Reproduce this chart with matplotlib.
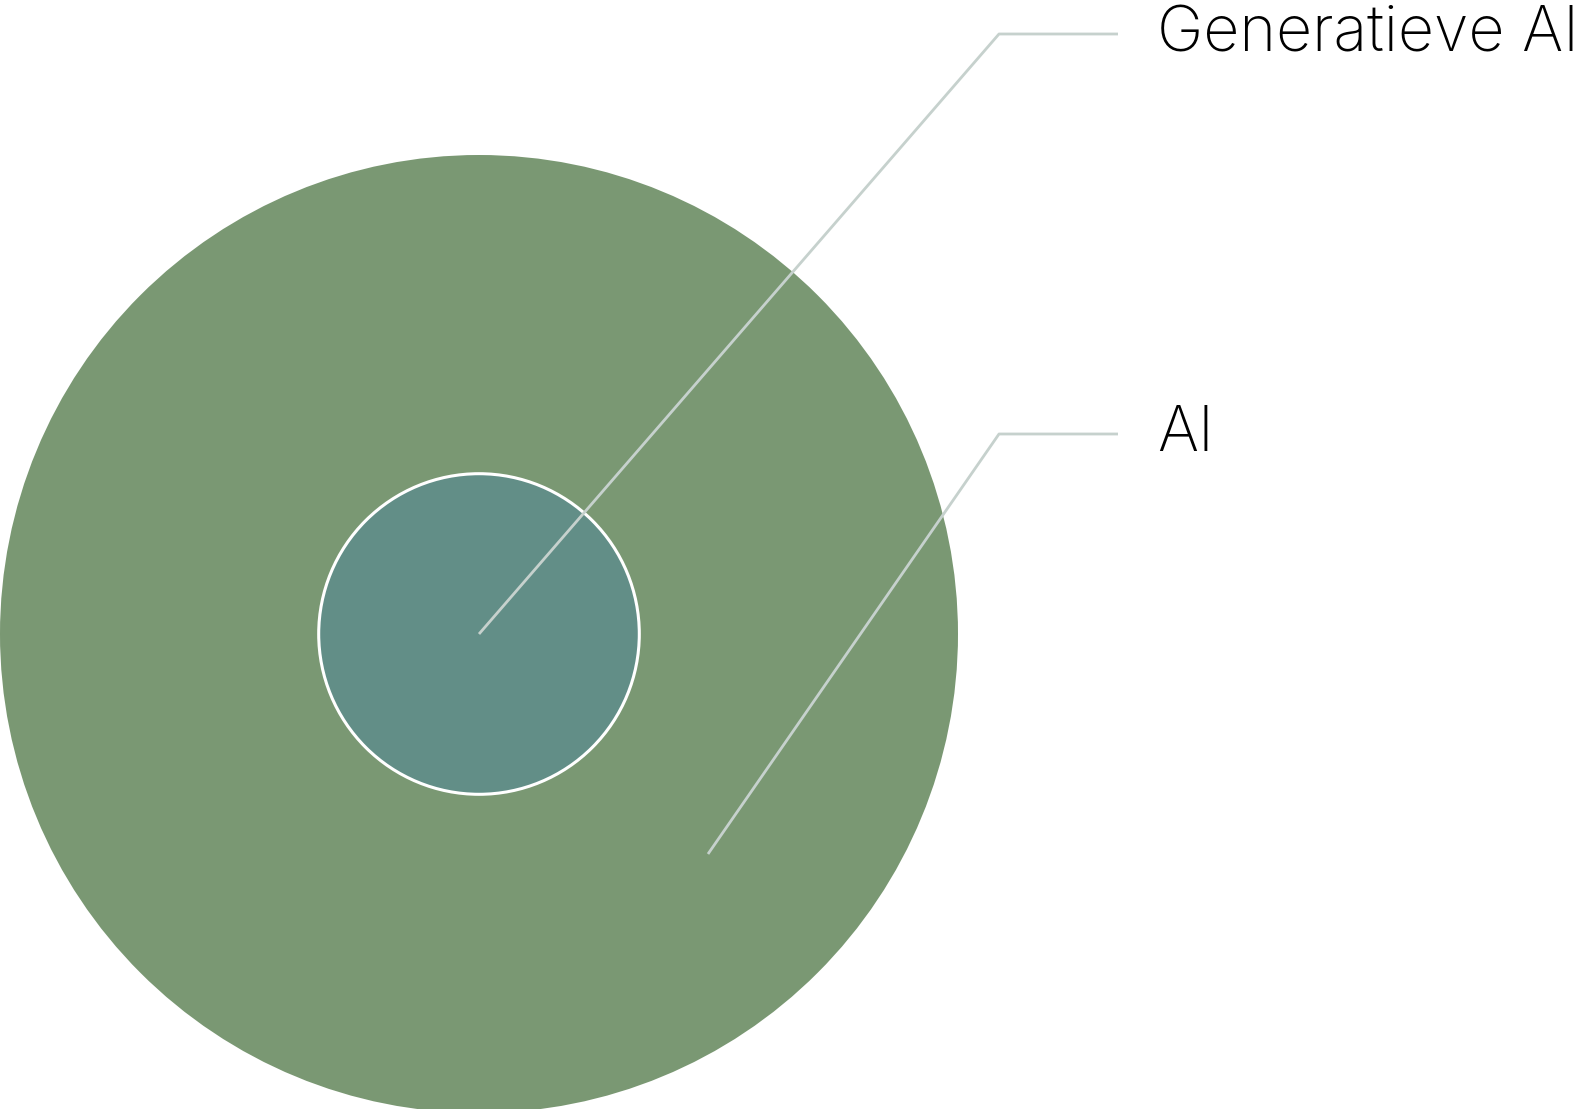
import numpy as np
import matplotlib
matplotlib.use('Agg')
import matplotlib.pyplot as plt
from matplotlib.patches import Circle

# nested sets, relative sizes (area)
labels = ['AI', 'Generatieve AI']
sizes = [100, 11.2]
colors = ['#7a9873', '#628e87']

W, H = 1587, 1109
fig = plt.figure(figsize=(W / 100, H / 100), dpi=100)
ax = fig.add_axes([0, 0, 1, 1])
ax.set_xlim(0, W)
ax.set_ylim(H, 0)
ax.set_aspect('equal')
ax.axis('off')

cx, cy = 479, 634
r_max = 479
radii = [r_max * np.sqrt(s / sizes[0]) for s in sizes]

ax.add_patch(Circle((cx, cy), radii[0], facecolor=colors[0], edgecolor='none', zorder=1))
ax.add_patch(Circle((cx, cy), radii[1], facecolor=colors[1], edgecolor='white', lw=2.2, zorder=2))

line_col = '#c6d1cd'
# leader lines: anchor -> elbow -> end
leaders = {
    'Generatieve AI': [(cx, cy), (999, 34), (1118, 34)],
    'AI': [(708, 854), (999, 434), (1118, 434)],
}
for name, pts in leaders.items():
    xs, ys = zip(*pts)
    ax.plot(xs, ys, color=line_col, lw=2, solid_capstyle='butt', zorder=3)
    ax.text(1157, pts[-1][1] + 17, name, fontsize=45, family=['Inter', 'DejaVu Sans'],
            weight='light', color='black', ha='left', va='baseline', zorder=4)

fig.savefig('out.png', dpi=100, facecolor='white')
